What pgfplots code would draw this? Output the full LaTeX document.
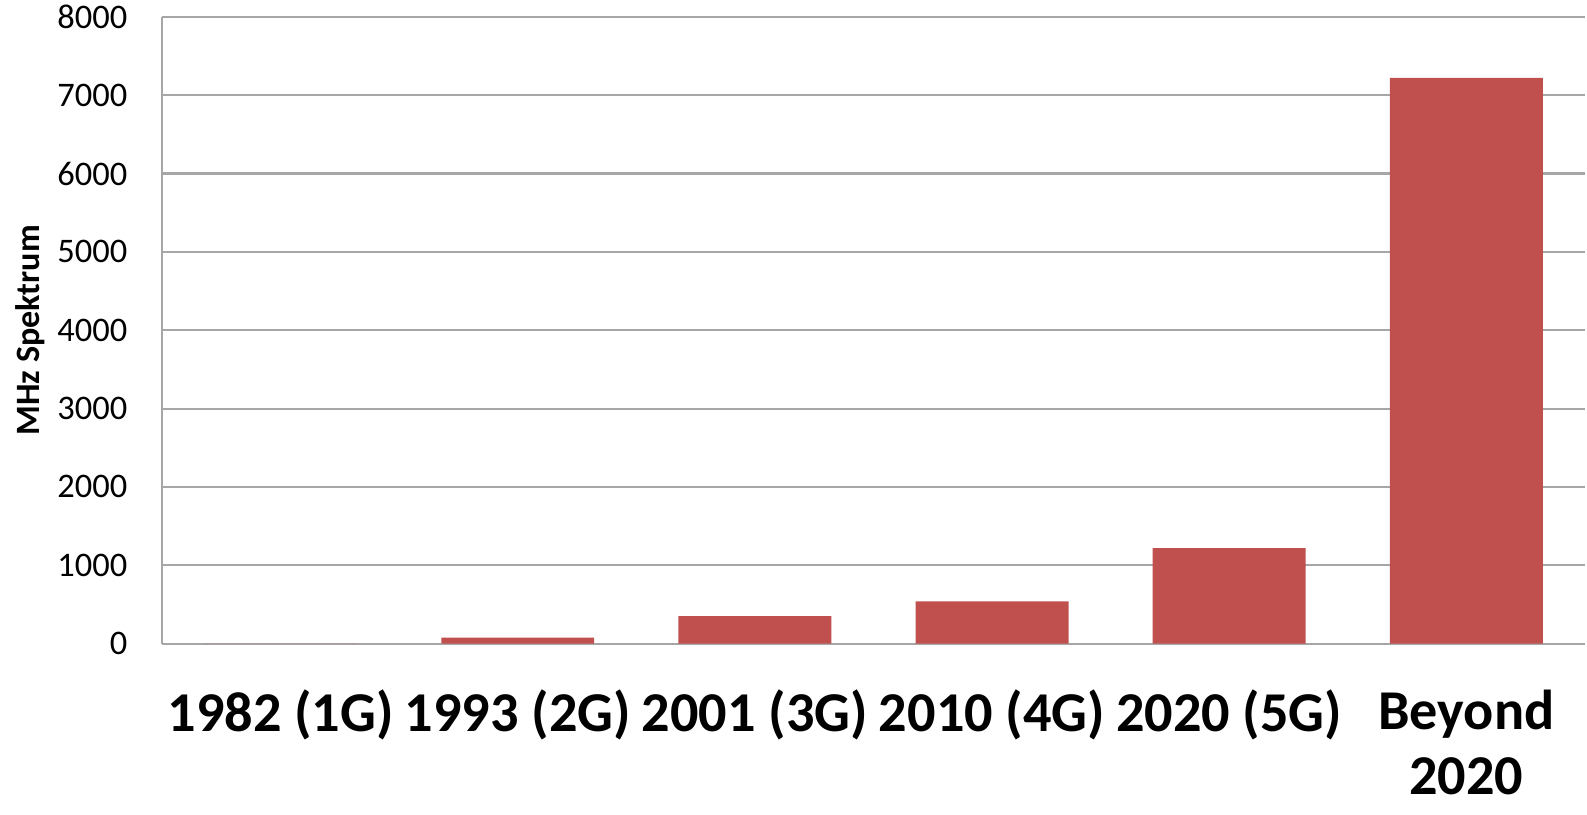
\documentclass[border=0pt]{standalone}
\usepackage{fontspec}
\setmainfont{Carlito}
\usepackage{pgfplots}
\pgfplotsset{compat=1.18}
\definecolor{barred}{HTML}{C0504D}
\definecolor{gridgray}{HTML}{A6A6A6}
\begin{document}
\begin{tikzpicture}
\begin{axis}[
  name=ax,
  width=404.8pt, height=178.3pt,
  scale only axis,
  xmin=0.5, xmax=6.5,
  ymin=0, ymax=8000,
  ybar, bar width=0.645,
  xtick={1,2,3,4,5,6},
  xticklabels={1982 (1G),1993 (2G),2001 (3G),2010 (4G),2020 (5G),{Beyond\\2020}},
  xticklabel style={font=\fontsize{16}{18.6}\selectfont\bfseries, align=center, anchor=north, inner sep=0pt, yshift=-13pt},
  ytick={0,1000,...,8000},
  yticklabel style={font=\fontsize{9.8}{12}\selectfont, inner sep=0pt, xshift=-9.7pt},
  /pgf/number format/assume math mode=true,
  /pgf/number format/set thousands separator={},
  scaled y ticks=false,
  major tick length=0pt,
  axis x line*=bottom, axis y line*=left,
  axis line style={draw=gridgray, line width=0.6pt, -},
  ymajorgrids, grid style={draw=gridgray, line width=0.6pt},
  ylabel={MHz Spektrum},
  every axis y label/.style={at={(rel axis cs:0,0.5)}, xshift=-37.6pt, rotate=90, anchor=center,
    font=\fontsize{9.7}{12}\selectfont\bfseries},
]
\addplot[fill=barred, draw=none] coordinates {
  (1,0) (2,75) (3,350) (4,540) (5,1220) (6,7220)
};
\end{axis}
\pgfresetboundingbox
\path (ax.south west) ++(-46.1pt,-48.5pt) coordinate (bl);
\path (ax.north east) ++(0.6pt,4.8pt) coordinate (tr);
\path (bl) rectangle (tr);
\end{tikzpicture}
\end{document}
